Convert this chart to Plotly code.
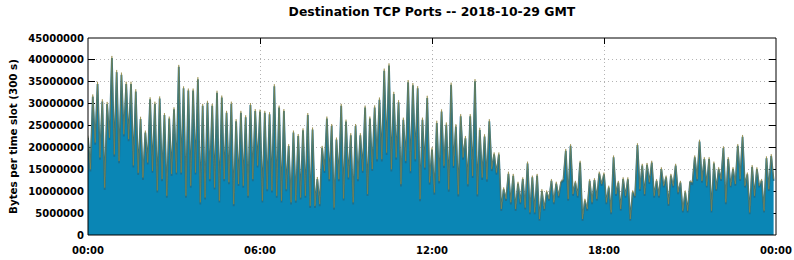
import datetime as dt
import plotly.graph_objects as go

# ---- data (values in millions of bytes per 300 s slot) ----
# peaks = even slots (00:00, 00:10, ...), troughs = odd slots (00:05, 00:15, ...)
peaks_m = [
    23.0, 32.4, 35.3, 31.3, 30.7, 41.2, 38.0, 37.4, 35.3, 35.3, 33.6, 27.3,
    24.1, 31.7, 30.7, 31.9, 28.1, 27.3, 29.4, 39.1, 34.2, 33.7, 33.7, 36.3,
    30.2, 30.9, 30.2, 33.2, 32.1, 28.6, 30.7, 26.7, 28.6, 27.6, 30.4, 29.0,
    28.9, 28.6, 28.3, 34.7, 29.8, 29.0, 21.0, 24.1, 23.3, 24.6, 28.1, 24.8,
    13.5, 20.6, 27.3, 25.6, 22.5, 30.2, 26.6, 23.5, 25.6, 23.5, 29.8, 27.3,
    29.9, 31.7, 38.3, 39.5, 33.0, 31.1, 27.1, 35.7, 35.0, 34.3, 27.1, 32.1,
    20.3, 26.4, 29.0, 26.0, 35.1, 25.6, 27.9, 22.9, 27.9, 35.9, 24.8, 23.3,
    26.7, 19.1, 19.1, 11.1, 14.7, 14.2, 12.4, 13.4, 17.0, 13.8, 14.2, 10.7,
    10.4, 13.0, 12.4, 12.6, 19.9, 21.0, 12.6, 17.2, 8.5, 13.0, 13.2, 14.7,
    14.5, 11.5, 18.4, 12.6, 13.4, 13.4, 10.4, 21.2, 16.5, 16.7, 17.2, 13.0,
    15.7, 13.8, 14.2, 16.5, 12.6, 10.4, 12.6, 18.4, 22.0, 18.0, 18.0, 17.0,
    15.7, 20.5, 18.0, 15.7, 21.0, 23.1, 14.5, 16.2, 15.7, 13.0, 18.2, 18.7,
]
troughs_m = [
    15.3, 21.4, 18.0, 11.1, 22.5, 18.7, 17.2, 23.3, 22.2, 16.2, 14.5, 13.4,
    16.8, 14.9, 10.4, 13.0, 9.2, 14.2, 14.5, 14.5, 9.2, 11.5, 14.5, 7.7,
    8.8, 13.0, 11.1, 8.1, 13.0, 12.3, 7.3, 11.9, 11.5, 9.2, 13.0, 16.1,
    8.1, 10.7, 10.4, 9.2, 8.1, 10.7, 7.7, 8.1, 8.8, 9.2, 6.9,
    6.9, 7.3, 14.9, 13.0, 6.5, 13.0, 8.6, 13.4, 7.7, 13.0, 14.9, 9.6,
    15.3, 17.6, 17.6, 19.1, 15.3, 18.0, 11.9, 17.2, 14.9, 17.6, 8.5, 15.7,
    12.3, 10.0, 12.6, 16.1, 10.7, 16.1, 9.6, 18.0, 11.9, 13.8, 9.6, 13.4,
    13.0, 15.3, 14.5, 6.2, 8.5, 7.7, 6.2, 7.7, 6.5, 5.4, 5.4, 3.9,
    6.2, 8.5, 7.7, 9.2, 13.0, 8.5, 9.6, 9.2, 3.9, 6.2, 7.7, 8.5,
    11.9, 7.7, 5.4, 9.6, 6.2, 9.2, 3.9, 9.2, 10.7, 9.6, 12.3, 9.2,
    9.2, 11.5, 7.3, 11.5, 10.0, 5.8, 5.8, 12.3, 13.0, 12.6, 11.5, 5.8,
    10.7, 13.0, 7.7, 11.5, 11.9, 13.0, 11.5, 5.4, 9.2, 11.5, 5.8, 10.7, 13.0,
]
# thin upper layers (hourly, millions)
olive_hourly_m = [0.50, 0.50, 0.45, 0.45, 0.45, 0.45, 0.45, 0.45, 0.45, 0.45, 0.50, 0.50,
                  0.50, 0.50, 0.45, 0.40, 0.40, 0.40, 0.40, 0.40, 0.40, 0.40, 0.40, 0.40]
gray_hourly_m = [0.30, 0.30, 0.25, 0.25, 0.25, 0.25, 0.25, 0.25, 0.25, 0.25, 0.30, 0.30,
                 0.30, 0.30, 0.25, 0.25, 0.25, 0.25, 0.25, 0.25, 0.25, 0.25, 0.25, 0.25]

x_tick_labels = ["00:00", "06:00", "12:00", "18:00", "00:00"]
y_tick_values = [0, 5000000, 10000000, 15000000, 20000000, 25000000,
                 30000000, 35000000, 40000000, 45000000]

# ---- build series ----
start = dt.datetime(2018, 10, 29, 0, 0)
total = []
for p, t in zip(peaks_m, troughs_m):
    total.append(p)
    total.append(t)
n = len(total)
times = [start + dt.timedelta(minutes=5 * i) for i in range(n)]
olive = [olive_hourly_m[i // 12] for i in range(n)]
gray = [gray_hourly_m[i // 12] for i in range(n)]
blue = [total[i] - olive[i] - gray[i] for i in range(n)]

M = 1e6
fig = go.Figure()
fig.add_trace(go.Scatter(x=times, y=[v * M for v in blue], stackgroup="s", mode="lines",
                         line=dict(color="#1f6f8c", width=1.8), fillcolor="#0a86b5",
                         name="blue"))
fig.add_trace(go.Scatter(x=times, y=[v * M for v in olive], stackgroup="s", mode="lines",
                         line=dict(color="#8e8640", width=0.6), fillcolor="#958a42",
                         name="olive"))
fig.add_trace(go.Scatter(x=times, y=[v * M for v in gray], stackgroup="s", mode="lines",
                         line=dict(color="rgba(0,0,0,0)", width=0), fillcolor="#c4c0cc",
                         name="gray"))

tick_times = [start + dt.timedelta(hours=6 * k) for k in range(5)]
font_family = "DejaVu Sans"
fig.update_layout(
    width=794, height=260,
    margin=dict(l=88, r=18, t=38, b=25, autoexpand=False),
    paper_bgcolor="white", plot_bgcolor="white",
    showlegend=False,
    title=dict(text="<b>Destination TCP Ports -- 2018-10-29 GMT</b>",
               x=0.544, xanchor="center", y=0.955, yanchor="middle",
               font=dict(family=font_family, size=12.4, color="black")),
    xaxis=dict(range=[start, start + dt.timedelta(hours=24)],
               tickvals=tick_times, ticktext=x_tick_labels, automargin=False,
               ticks="inside", ticklen=6, tickcolor="black", tickwidth=1,
               mirror="ticks", showline=False, ticklabelstandoff=8,
               showgrid=True, gridcolor="#b4b4b4", griddash="1px,3px", gridwidth=1,
               layer="below traces", zeroline=False,
               tickfont=dict(family=font_family, size=10, color="black", weight="bold")),
    yaxis=dict(range=[0, 45000000], tickvals=y_tick_values, tickformat="d",
               automargin=False,
               ticks="inside", ticklen=7, tickcolor="black", tickwidth=1,
               mirror="ticks", showline=False, ticklabelstandoff=3,
               showgrid=True, gridcolor="#b4b4b4", griddash="1px,3px", gridwidth=1,
               layer="below traces", zeroline=False,
               title=dict(text="<b>Bytes per time slot (300 s)</b>", standoff=8,
                          font=dict(family=font_family, size=10.3, color="black")),
               tickfont=dict(family=font_family, size=10, color="black", weight="bold")),
    shapes=[dict(type="rect", xref="paper", yref="paper", x0=0, y0=0, x1=1, y1=1,
                 line=dict(color="black", width=1), fillcolor="rgba(0,0,0,0)",
                 layer="above")],
)
fig.write_html("out.html")
